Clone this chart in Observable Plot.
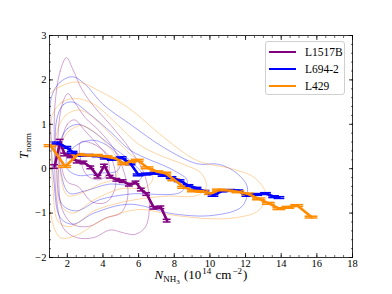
<!DOCTYPE html>
<html><head><meta charset="utf-8">
<script src="https://cdn.jsdelivr.net/npm/d3@7"></script>
<script src="https://cdn.jsdelivr.net/npm/@observablehq/plot@0.6"></script>
<style>
body{margin:0;background:#fff;}
#wrap{position:relative;width:392px;height:294px;font-family:"Liberation Serif","DejaVu Serif",serif;}
#legend{position:absolute;left:265px;top:41px;width:80px;height:54px;border:1px solid #d0d0d0;border-radius:3px;background:rgba(255,255,255,0.8);box-sizing:border-box;}
.item{position:absolute;left:0;height:16px;font-size:11.5px;line-height:16px;color:#000;}
.item span.sw{position:absolute;left:3px;top:6.5px;width:27px;height:2.6px;}
.item span.tx{position:absolute;left:39px;top:0;white-space:nowrap;}
</style></head><body><div id="wrap"></div>
<script>
// ---- data ----
const seriesNames = ["L1517B", "L694-2", "L429"];
const seriesColors = ["#800080", "#0000ff", "#ff8c00"];

const l1517bX = [1.28, 1.6, 1.85, 2.2, 2.55, 2.93, 3.32, 3.72, 4.08, 4.4, 4.78, 5.12, 5.48, 5.85, 6.15, 6.45, 6.86, 7.25, 7.6];
const l1517bY = [0.05, 0.6, 0.32, 0.28, 0.16, 0.14, 0.03, -0.18, 0.07, -0.18, -0.25, -0.28, -0.36, -0.31, -0.47, -0.57, -0.88, -0.87, -1.17];
const l1517bErr = [0.04, 0.06, 0.03, 0.03, 0.03, 0.03, 0.03, 0.03, 0.03, 0.03, 0.03, 0.03, 0.03, 0.03, 0.03, 0.03, 0.03, 0.03, 0.03];

const l6942X = [1.45, 1.95, 2.3, 2.75, 3.2, 3.7, 4.15, 4.55, 5.05, 5.55, 6.0, 6.45, 6.95, 7.4, 7.85, 8.3, 8.8, 9.25, 9.7, 10.2, 10.7, 11.15, 11.6, 12.1, 12.65, 13.15, 13.6, 13.9];
const l6942Y = [0.58, 0.48, 0.37, 0.3, 0.3, 0.29, 0.24, 0.21, 0.25, 0.11, -0.14, -0.12, -0.1, -0.15, -0.2, -0.27, -0.38, -0.44, -0.51, -0.6, -0.5, -0.49, -0.5, -0.6, -0.58, -0.56, -0.63, -0.65];
const l6942Err = [0.02, 0.02, 0.02, 0.02, 0.02, 0.02, 0.02, 0.02, 0.02, 0.02, 0.02, 0.02, 0.02, 0.02, 0.02, 0.02, 0.02, 0.02, 0.02, 0.02, 0.02, 0.02, 0.02, 0.02, 0.02, 0.02, 0.02, 0.02];

const l429X = [1.06, 1.88, 2.6, 3.15, 3.65, 4.2, 4.7, 5.2, 5.55, 5.95, 6.5, 7.05, 7.5, 8.0, 8.55, 9.1, 9.6, 10.05, 10.5, 11.0, 11.6, 12.15, 12.75, 13.3, 13.9, 14.4, 14.9, 15.7];
const l429Y = [0.52, 0.05, 0.32, 0.3, 0.3, 0.27, 0.23, 0.11, 0.16, 0.19, 0.02, -0.07, -0.1, -0.25, -0.42, -0.5, -0.51, -0.56, -0.48, -0.49, -0.52, -0.57, -0.68, -0.78, -0.9, -0.87, -0.83, -1.09];
const l429Err = [0.02, 0.02, 0.02, 0.02, 0.02, 0.02, 0.02, 0.02, 0.02, 0.02, 0.02, 0.02, 0.02, 0.02, 0.02, 0.02, 0.02, 0.02, 0.02, 0.02, 0.02, 0.02, 0.02, 0.02, 0.02, 0.02, 0.02, 0.02];

// density contours (closed curves)
const purpleContours = [
  [[1.3,1.4],[1.6,2.2],[1.95,2.5],[2.3,2.25],[2.8,1.8],[3.5,1.4],[4.5,0.95],[5.5,0.45],[6.3,-0.1],[6.6,-0.7],[6.4,-1.3],[5.8,-1.48],[5.2,-1.45],[4.4,-1.38],[3.5,-1.55],[2.5,-1.55],[1.8,-1.35],[1.4,-0.7],[1.28,0.4]],
  [[1.5,0.9],[1.75,1.5],[2.03,1.69],[2.4,1.5],[3.0,1.15],[3.8,0.85],[4.6,0.45],[5.2,-0.1],[5.4,-0.6],[5.0,-1.0],[4.2,-1.1],[3.2,-1.3],[2.3,-1.25],[1.7,-0.9],[1.5,0]],
  [[1.65,0.5],[2.0,1.0],[2.4,1.1],[3.0,0.85],[3.8,0.5],[4.5,0.2],[4.7,-0.4],[4.2,-0.75],[3.4,-0.75],[2.6,-0.4],[2.0,-0.3],[1.7,0]],
  [[2.75,0.6],[3.5,0.55],[4.2,0.3],[4.3,-0.1],[3.8,-0.25],[3.1,-0.15],[2.75,0.2]]
];
const blueContours = [
  [[1.1,1.6],[1.6,1.95],[2.3,2.07],[3.0,1.9],[4.0,1.45],[5.5,1.01],[7.4,0.48],[9.3,0.11],[10.5,0.1],[11.5,-0.1],[12.1,-0.42],[11.8,-0.85],[10.2,-1.05],[8.0,-1.02],[5.5,-0.8],[3.5,-1.0],[2.3,-1.25],[1.6,-1.1],[1.25,-0.3],[1.1,0.6]],
  [[1.4,1.1],[1.8,1.45],[2.3,1.5],[3.2,1.25],[4.5,0.8],[5.55,0.41],[7.98,-0.04],[8.73,-0.27],[8.36,-0.53],[5.55,-0.57],[3.8,-0.7],[2.5,-0.95],[1.7,-0.8],[1.4,0]],
  [[1.6,0.6],[2.0,0.9],[2.6,1.0],[3.4,0.85],[4.5,0.5],[5.6,0.15],[6.2,-0.15],[5.7,-0.35],[4.3,-0.35],[3.0,-0.5],[2.1,-0.55],[1.65,-0.1]],
  [[2.0,0.3],[2.6,0.55],[3.5,0.64],[4.5,0.45],[5.0,0.2],[4.8,-0.05],[3.8,-0.1],[2.6,-0.15],[2.0,0.0]]
];
const orangeContours = [
  [[0.9,1.6],[1.6,1.85],[2.6,1.95],[3.8,1.75],[5.5,1.35],[7.4,0.71],[9.3,0.18],[11.2,0.0],[12.5,-0.2],[13.15,-0.6],[12.7,-0.95],[11.5,-1.1],[10.2,-1.13],[8.0,-1.05],[6.0,-0.92],[4.0,-1.15],[2.5,-1.5],[1.6,-1.55],[1.05,-1.0],[0.9,0.2]],
  [[1.15,1.2],[1.7,1.5],[2.5,1.58],[3.5,1.45],[4.8,1.0],[6.0,0.55],[7.2,0.3],[8.5,0.1],[9.5,-0.1],[9.8,-0.4],[9.3,-0.6],[7.5,-0.62],[5.5,-0.72],[3.5,-0.95],[2.2,-1.3],[1.5,-1.2],[1.2,-0.5],[1.1,0.4]],
  [[1.4,0.8],[1.9,1.2],[2.7,1.32],[3.6,1.1],[4.6,0.7],[5.6,0.3],[6.3,0.1],[6.8,-0.2],[6.4,-0.42],[5.0,-0.45],[3.5,-0.7],[2.3,-1.0],[1.6,-0.8],[1.4,0]],
  [[1.6,0.5],[2.1,0.85],[2.8,0.97],[3.6,0.8],[4.3,0.5],[4.8,0.2],[4.7,-0.2],[3.8,-0.35],[2.8,-0.55],[2.0,-0.6],[1.65,-0.2]]
];

const xTicks = [2, 4, 6, 8, 10, 12, 14, 16, 18];
const xMinorTicks = d3.range(1, 18.01, 0.5);
const yTicks = [-2, -1, 0, 1, 2, 3];
const yMinorTicks = d3.range(-2, 3.01, 0.2);

// ---- build tables ----
const seriesX = [l1517bX, l6942X, l429X];
const seriesY = [l1517bY, l6942Y, l429Y];
const seriesErr = [l1517bErr, l6942Err, l429Err];
const capHalf = [0.22, 0.3, 0.36];
const pts = [];
seriesNames.forEach((name, s) => {
  seriesX[s].forEach((x, i) => pts.push({name, x, y: seriesY[s][i], e: seriesErr[s][i], cw: capHalf[s]}));
});
const contourSets = [purpleContours, blueContours, orangeContours];
const cont = [];
contourSets.forEach((set, s) => set.forEach((c, k) => c.forEach(([x, y]) => cont.push({name: seriesNames[s], id: s + "-" + k, x, y}))));

const color = {domain: seriesNames, range: seriesColors};
const blank = () => "";
const FONT = "'Liberation Serif', 'DejaVu Serif', serif";

const plot = Plot.plot({
  width: 392, height: 294,
  marginLeft: 49, marginRight: 40, marginTop: 35, marginBottom: 37,
  style: {fontFamily: FONT, fontSize: "10.5px", background: "white", overflow: "visible"},
  x: {domain: [1, 18]},
  y: {domain: [-2, 3]},
  color,
  marks: [
    Plot.line(cont, {x: "x", y: "y", z: "id", stroke: "name", curve: "catmull-rom-closed", strokeWidth: 0.8, strokeOpacity: 0.45, clip: true}),
    Plot.ruleX(pts, {x: "x", y1: d => d.y - d.e, y2: d => d.y + d.e, stroke: "name", strokeWidth: 1.5}),
    Plot.ruleY(pts, {y: d => d.y + d.e, x1: d => d.x - d.cw, x2: d => d.x + d.cw, stroke: "name", strokeWidth: 1.5}),
    Plot.ruleY(pts, {y: d => d.y - d.e, x1: d => d.x - d.cw, x2: d => d.x + d.cw, stroke: "name", strokeWidth: 1.5}),
    Plot.line(pts, {x: "x", y: "y", z: "name", stroke: "name", strokeWidth: 2.6, strokeLinejoin: "miter"}),
    Plot.axisX(xMinorTicks, {anchor: "bottom", tickSize: -2, tickFormat: blank, label: null, strokeWidth: 0.6}),
    Plot.axisX(xMinorTicks, {anchor: "top", tickSize: -2, tickFormat: blank, label: null, strokeWidth: 0.6}),
    Plot.axisY(yMinorTicks, {anchor: "left", tickSize: -2, tickFormat: blank, label: null, strokeWidth: 0.6}),
    Plot.axisY(yMinorTicks, {anchor: "right", tickSize: -2, tickFormat: blank, label: null, strokeWidth: 0.6}),
    Plot.axisX(xTicks, {anchor: "bottom", tickSize: -4, tickPadding: 6, label: null, strokeWidth: 0.8, fontFamily: FONT}),
    Plot.axisX(xTicks, {anchor: "top", tickSize: -4, tickFormat: blank, label: null, strokeWidth: 0.8}),
    Plot.axisY(yTicks, {anchor: "left", tickSize: -4, tickPadding: 7, label: null, strokeWidth: 0.8, fontFamily: FONT}),
    Plot.axisY(yTicks, {anchor: "right", tickSize: -4, tickFormat: blank, label: null, strokeWidth: 0.8}),
    Plot.frame({stroke: "black", strokeWidth: 0.8})
  ]
});

const wrap = document.getElementById("wrap");
wrap.appendChild(plot);

// axis labels with sub/superscripts
const svg = d3.select(plot);
const yl = svg.append("text")
  .attr("transform", "translate(28,146) rotate(-90)")
  .attr("text-anchor", "middle")
  .style("font-family", FONT).style("font-size", "13px").attr("fill", "black");
yl.append("tspan").style("font-style", "italic").text("T");
yl.append("tspan").attr("dy", "3").style("font-size", "9px").text("norm");

const xl = svg.append("text")
  .attr("x", 201).attr("y", 279)
  .attr("text-anchor", "middle")
  .style("font-family", FONT).style("font-size", "13px").attr("fill", "black");
xl.append("tspan").style("font-style", "italic").text("N");
xl.append("tspan").attr("dy", "3").style("font-size", "9px").text("NH");
xl.append("tspan").attr("dy", "2").style("font-size", "7px").text("3");
xl.append("tspan").attr("dy", "-5").attr("dx", "1").text(" (10");
xl.append("tspan").attr("dy", "-5").attr("dx", "1").style("font-size", "9px").text("14");
xl.append("tspan").attr("dy", "5").attr("dx", "1").text(" cm");
xl.append("tspan").attr("dy", "-5").attr("dx", "1").style("font-size", "9px").text("\u22122");
xl.append("tspan").attr("dy", "5").attr("dx", "1").text(")");

// legend
const leg = document.createElement("div");
leg.id = "legend";
seriesNames.forEach((n, i) => {
  const it = document.createElement("div");
  it.className = "item";
  it.style.top = (2 + i * 17) + "px";
  it.innerHTML = `<span class="sw" style="background:${seriesColors[i]}"></span><span class="tx">${n}</span>`;
  leg.appendChild(it);
});
wrap.appendChild(leg);
</script>
</body></html>
